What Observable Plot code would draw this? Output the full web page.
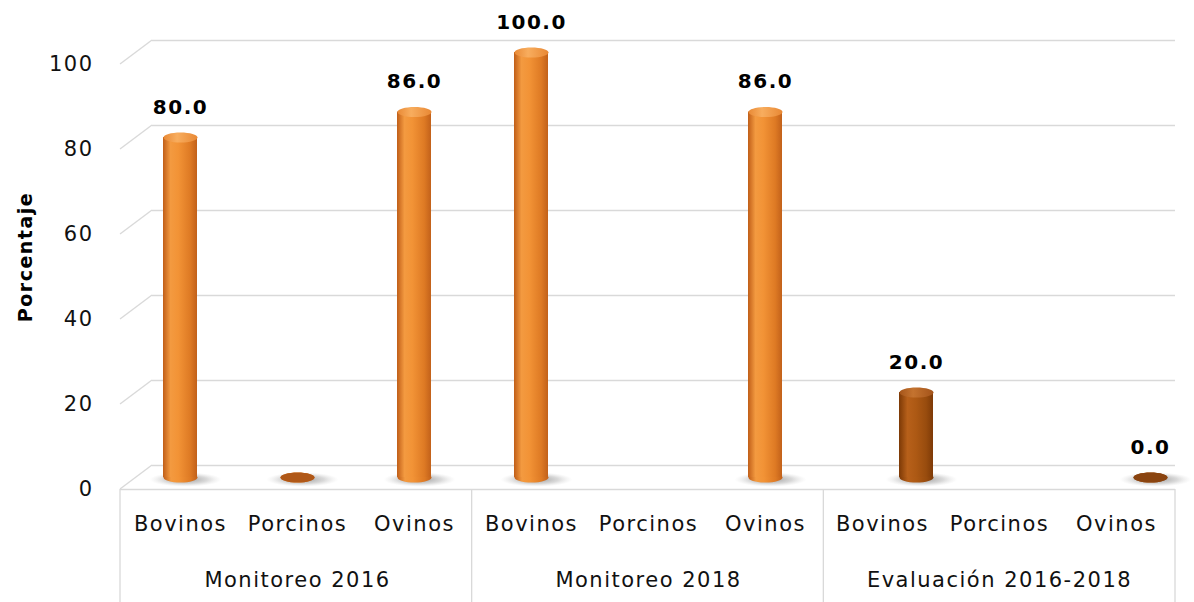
<!DOCTYPE html>
<html>
<head>
<meta charset="utf-8">
<script src="https://cdn.jsdelivr.net/npm/d3@7"></script>
<script src="https://cdn.jsdelivr.net/npm/@observablehq/plot@0.6"></script>
<style>
  html, body { margin: 0; padding: 0; background: #fff; }
</style>
</head>
<body>
<div id="chart"></div>
<script>
// ---- data ----
const groups = ["Monitoreo 2016", "Monitoreo 2018", "Evaluación 2016-2018"];
const species = ["Bovinos", "Porcinos", "Ovinos"];
const valuesMonitoreo2016 = [80, 0, 86];
const valuesMonitoreo2018 = [100, null, 86];
const valuesEvaluacion = [20, null, 0];
const labelsMonitoreo2016 = ["80.0", "", "86.0"];
const labelsMonitoreo2018 = ["100.0", "", "86.0"];
const labelsEvaluacion = ["20.0", "", "0.0"];
const seriesOfGroup = [0, 0, 1];   // 0 = Monitoreo series, 1 = Evaluación series
const yTicks = [0, 20, 40, 60, 80, 100];
const yLabel = "Porcentaje";

// ---- styles ----
const bodyFill = ["url(#bodyOrange)", "url(#bodyBrown)"];
const capFill = ["url(#capOrange)", "url(#capBrown)"];
const zeroCapFill = ["#b05818", "#8a4410"];
const seriesDx = [0, 34];  // clustered offset of the second series
const BAR_DY = -12;      // mid-depth offset for bars
const BACK_DY = -24;     // back wall offset
const DEPTH_X = 32;      // depth offset on the left wall
const GRID = "#d9d9d9";

const allValues = [valuesMonitoreo2016, valuesMonitoreo2018, valuesEvaluacion];
const allLabels = [labelsMonitoreo2016, labelsMonitoreo2018, labelsEvaluacion];
const rows = [];
groups.forEach((g, gi) => species.forEach((s, si) => {
  rows.push({group: g, species: s, key: g + "|" + s, series: seriesOfGroup[gi],
             value: allValues[gi][si], label: allLabels[gi][si]});
}));
const keys = rows.map(d => d.key);

function ellipseSymbol(ratio) {
  return {
    draw(ctx, size) {
      const rx = Math.sqrt(size / Math.PI), ry = rx * ratio, k = 0.5523;
      ctx.moveTo(-rx, 0);
      ctx.bezierCurveTo(-rx, -ry * k, -rx * k, -ry, 0, -ry);
      ctx.bezierCurveTo(rx * k, -ry, rx, -ry * k, rx, 0);
      ctx.bezierCurveTo(rx, ry * k, rx * k, ry, 0, ry);
      ctx.bezierCurveTo(-rx * k, ry, -rx, ry * k, -rx, 0);
      ctx.closePath();
    }
  };
}
const capSymbol = ellipseSymbol(0.3);
const shadowSymbol = ellipseSymbol(0.2);

function defsMark() {
  const defs = d3.create("svg:defs");
  const lin = (id, stops) => {
    const g = defs.append("linearGradient").attr("id", id)
      .attr("x1", "0").attr("x2", "1").attr("y1", "0").attr("y2", "0");
    stops.forEach(([o, c]) => g.append("stop").attr("offset", o).attr("stop-color", c));
  };
  lin("bodyOrange", [[0, "#c05e18"], [0.22, "#f39a40"], [0.45, "#f29336"], [0.8, "#de7a24"], [1, "#c2611a"]]);
  lin("bodyBrown", [[0, "#7c3906"], [0.25, "#b7601a"], [0.5, "#ad5914"], [0.8, "#984c0e"], [1, "#7e3a07"]]);
  lin("capOrange", [[0, "#e98a36"], [0.4, "#f8ad5e"], [1, "#e88834"]]);
  lin("capBrown", [[0, "#a5551a"], [0.4, "#c4732f"], [1, "#a3531a"]]);
  const r = defs.append("radialGradient").attr("id", "shadow");
  r.append("stop").attr("offset", 0).attr("stop-color", "#808080").attr("stop-opacity", 0.8);
  r.append("stop").attr("offset", 0.6).attr("stop-color", "#a0a0a0").attr("stop-opacity", 0.4);
  r.append("stop").attr("offset", 1).attr("stop-color", "#cccccc").attr("stop-opacity", 0);
  return defs.node();
}

function depthLines(index, scales, values, dims) {
  const g = d3.create("svg:g").attr("stroke", GRID).attr("stroke-width", 1.3);
  const x0 = dims.marginLeft;
  for (const t of yTicks) {
    const y = scales.y(t);
    g.append("line").attr("x1", x0).attr("y1", y).attr("x2", x0 + DEPTH_X).attr("y2", y + BACK_DY);
  }
  return g.node();
}

function groupSeparators(index, scales, values, dims) {
  const {width, height, marginLeft, marginRight, marginBottom} = dims;
  const w = (width - marginLeft - marginRight) / groups.length;
  const g = d3.create("svg:g").attr("stroke", GRID).attr("stroke-width", 1.3);
  for (let k = 0; k <= groups.length; k++) {
    const x = marginLeft + k * w;
    g.append("line").attr("x1", x).attr("x2", x).attr("y1", height - marginBottom).attr("y2", height);
  }
  return g.node();
}

// cylinder marks for one series
function cylinders(series) {
  const data = rows.filter(d => d.series === series && d.value != null);
  const labeled = data.filter(d => d.label);
  const dx = seriesDx[series];
  return [
    Plot.dot(data, {x: "key", y: () => 0, dx: dx + 5, dy: BAR_DY + 2, r: 36, symbol: shadowSymbol, fill: () => "url(#shadow)"}),
    Plot.dot(data, {x: "key", y: () => 0, dx, dy: BAR_DY, r: 17, symbol: capSymbol, fill: () => bodyFill[series]}),
    Plot.barY(data, {x: "key", y: "value", dx, dy: BAR_DY, fill: () => bodyFill[series]}),
    Plot.dot(data, {x: "key", y: "value", dx, dy: BAR_DY, r: 17, symbol: capSymbol,
      fill: d => d.value === 0 ? zeroCapFill[series] : capFill[series]}),
    Plot.text(labeled, {x: "key", y: "value", text: "label", dx, dy: BAR_DY - 30, fontWeight: "bold", fontSize: 20, fill: "#000"})
  ];
}

const chart = Plot.plot({
  width: 1194,
  height: 602,
  marginTop: 64,
  marginBottom: 113,
  marginLeft: 120,
  marginRight: 19,
  style: {fontFamily: "'DejaVu Sans', sans-serif", fontSize: "21px", letterSpacing: "1.5px", color: "#111", background: "#fff"},
  x: {type: "band", domain: keys, paddingInner: 0.71, paddingOuter: 0.355, axis: null},
  y: {domain: [0, 100], ticks: yTicks, tickSize: 0, tickPadding: 27, label: null},
  color: {type: "identity"},
  marks: [
    defsMark,
    Plot.ruleY(yTicks, {dy: BACK_DY, insetLeft: DEPTH_X, stroke: GRID, strokeWidth: 1.5}),
    depthLines,
    Plot.ruleY([0], {stroke: GRID, strokeWidth: 1.5}),
    groupSeparators,
    ...cylinders(0),
    ...cylinders(1),
    Plot.text(rows, {x: "key", text: "species", frameAnchor: "bottom", dy: 41, fontSize: 21, fill: "#111"}),
    Plot.text(rows.filter(d => d.species === species[1]), {x: "key", text: "group", frameAnchor: "bottom", dy: 97, fontSize: 21, fill: "#111"}),
    Plot.text([yLabel], {frameAnchor: "left", textAnchor: "middle", text: d => d, rotate: -90, dx: -95, dy: -20, fontWeight: "bold", fontSize: 19, fill: "#000"})
  ]
});
document.getElementById("chart").appendChild(chart);
</script>
</body>
</html>
